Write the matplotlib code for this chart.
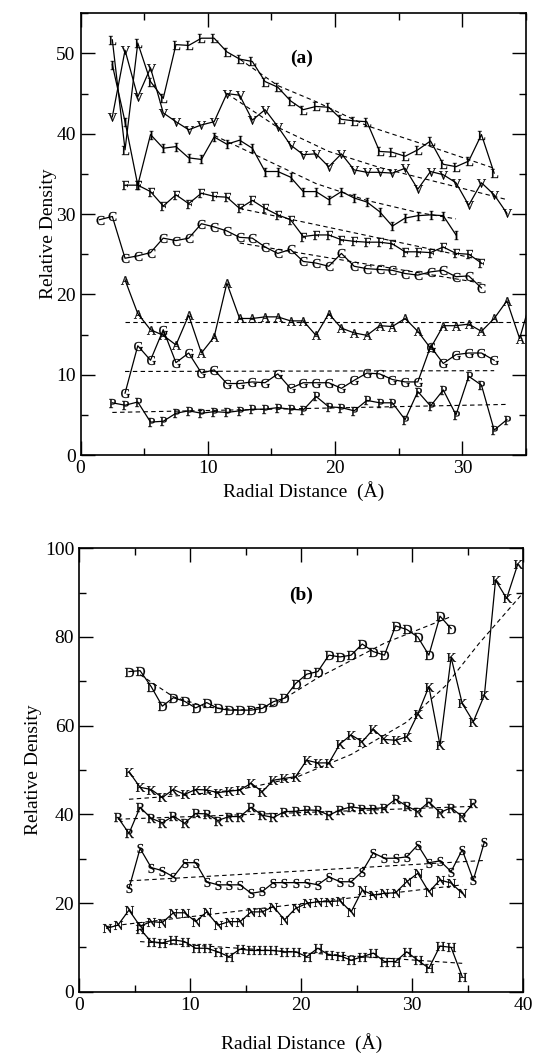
import matplotlib
matplotlib.use("Agg")
import matplotlib.pyplot as plt
from matplotlib.ticker import MultipleLocator

plt.rcParams['font.family'] = ['Liberation Serif', 'DejaVu Serif']
plt.rcParams['mathtext.fontset'] = 'custom'
plt.rcParams['mathtext.rm'] = 'Liberation Serif'

# ---------------- Panel (a) data ----------------
L_x = [2.5, 3.5, 4.5, 5.5, 6.5, 7.5, 8.5, 9.5, 10.5, 11.5, 12.5, 13.5, 14.5, 15.5, 16.5,
       17.5, 18.5, 19.5, 20.5, 21.5, 22.5, 23.5, 24.5, 25.5, 26.5, 27.5, 28.5, 29.5, 30.5, 31.5, 32.5]
L_y = [51.7, 38.0, 51.3, 46.5, 44.4, 51.1, 51.0, 51.9, 51.9, 50.2, 49.3, 49.0, 46.5, 45.8, 44.1,
       43.0, 43.4, 43.3, 41.8, 41.6, 41.5, 37.8, 37.7, 37.2, 38.0, 39.1, 36.2, 35.9, 36.6, 39.9, 35.1]

V_x = [2.5, 3.5, 4.5, 5.5, 6.5, 7.5, 8.5, 9.5, 10.5, 11.5, 12.5, 13.5, 14.5, 15.5, 16.5,
       17.5, 18.5, 19.5, 20.5, 21.5, 22.5, 23.5, 24.5, 25.5, 26.5, 27.5, 28.5, 29.5, 30.5, 31.5, 32.5, 33.5]
V_y = [42.1, 50.4, 44.6, 48.2, 42.6, 41.5, 40.5, 41.1, 41.5, 45.0, 44.8, 41.7, 43.0, 40.9, 38.6,
       37.4, 37.5, 35.9, 37.5, 35.5, 35.2, 35.2, 35.1, 35.7, 33.1, 35.3, 34.9, 33.9, 31.1, 33.9, 32.4, 30.1]

I_x = [2.5, 3.5, 4.5, 5.5, 6.5, 7.5, 8.5, 9.5, 10.5, 11.5, 12.5, 13.5, 14.5, 15.5, 16.5,
       17.5, 18.5, 19.5, 20.5, 21.5, 22.5, 23.5, 24.5, 25.5, 26.5, 27.5, 28.5, 29.5]
I_y = [48.6, 41.5, 33.6, 39.9, 38.2, 38.4, 37.0, 36.8, 39.6, 38.7, 39.2, 38.2, 35.3, 35.3, 34.6,
       32.8, 32.8, 31.8, 32.8, 32.0, 31.5, 30.3, 28.5, 29.5, 29.8, 29.9, 29.8, 27.4]

F_x = [3.5, 4.5, 5.5, 6.5, 7.5, 8.5, 9.5, 10.5, 11.5, 12.5, 13.5, 14.5, 15.5, 16.5,
       17.5, 18.5, 19.5, 20.5, 21.5, 22.5, 23.5, 24.5, 25.5, 26.5, 27.5, 28.5, 29.5, 30.5, 31.5]
F_y = [33.6, 33.6, 32.8, 31.0, 32.4, 31.3, 32.6, 32.2, 32.1, 30.7, 31.7, 30.7, 29.9, 29.3,
       27.2, 27.4, 27.4, 26.8, 26.6, 26.5, 26.5, 26.3, 25.3, 25.3, 25.2, 25.9, 25.1, 25.0, 23.9]

C_x = [1.5, 2.5, 3.5, 4.5, 5.5, 6.5, 7.5, 8.5, 9.5, 10.5, 11.5, 12.5, 13.5, 14.5, 15.5, 16.5,
       17.5, 18.5, 19.5, 20.5, 21.5, 22.5, 23.5, 24.5, 25.5, 26.5, 27.5, 28.5, 29.5, 30.5, 31.5]
C_y = [29.3, 29.7, 24.5, 24.8, 25.2, 27.0, 26.7, 27.0, 28.8, 28.4, 27.9, 27.1, 27.0, 25.9, 25.1, 25.6,
       24.1, 23.9, 23.5, 25.1, 23.5, 23.2, 23.1, 23.0, 22.6, 22.4, 22.8, 23.0, 22.2, 22.3, 20.8]

A_x = [3.5, 4.5, 5.5, 6.5, 7.5, 8.5, 9.5, 10.5, 11.5, 12.5, 13.5, 14.5, 15.5, 16.5,
       17.5, 18.5, 19.5, 20.5, 21.5, 22.5, 23.5, 24.5, 25.5, 26.5, 27.5, 28.5, 29.5, 30.5,
       31.5, 32.5, 33.5, 34.5, 35.5]
A_y = [21.8, 17.6, 15.6, 14.9, 13.7, 17.4, 12.7, 14.7, 21.4, 17.0, 17.0, 17.2, 17.2, 16.7,
       16.7, 14.9, 17.6, 15.8, 15.2, 14.9, 16.1, 16.0, 17.0, 15.4, 13.3, 16.1, 16.1, 16.3,
       15.4, 17.0, 19.2, 14.5, 20.0]

G_x = [3.5, 4.5, 5.5, 6.5, 7.5, 8.5, 9.5, 10.5, 11.5, 12.5, 13.5, 14.5, 15.5, 16.5,
       17.5, 18.5, 19.5, 20.5, 21.5, 22.5, 23.5, 24.5, 25.5, 26.5, 27.5, 28.5, 29.5, 30.5, 31.5, 32.5]
G_y = [7.7, 13.6, 11.8, 15.6, 11.5, 12.7, 10.2, 10.6, 8.9, 8.9, 9.1, 9.0, 10.1, 8.3,
       9.0, 9.0, 9.0, 8.3, 9.3, 10.2, 10.1, 9.4, 9.1, 9.1, 13.5, 11.4, 12.5, 12.7, 12.7, 11.8]

P_x = [2.5, 3.5, 4.5, 5.5, 6.5, 7.5, 8.5, 9.5, 10.5, 11.5, 12.5, 13.5, 14.5, 15.5, 16.5,
       17.5, 18.5, 19.5, 20.5, 21.5, 22.5, 23.5, 24.5, 25.5, 26.5, 27.5, 28.5, 29.5, 30.5,
       31.5, 32.5, 33.5]
P_y = [6.5, 6.2, 6.6, 4.1, 4.2, 5.2, 5.5, 5.2, 5.4, 5.3, 5.5, 5.7, 5.7, 5.9, 5.7,
       5.6, 7.3, 6.0, 5.9, 5.5, 6.8, 6.5, 6.5, 4.4, 7.9, 6.1, 8.1, 5.0, 9.8,
       8.7, 3.1, 4.4]

# fitted (dashed) curves, panel (a)
fitL_x = [12.5, 15.5, 18.5, 22.5, 27.5, 32.5]
fitL_y = [49.3, 46.0, 44.0, 41.0, 38.4, 35.7]
fitV_x = [11.5, 15.5, 19.5, 23.5, 27.5, 33.5]
fitV_y = [45.0, 40.8, 37.8, 35.8, 34.2, 31.8]
fitI_x = [10.5, 14.5, 18.5, 22.5, 26.5, 29.5]
fitI_y = [39.8, 36.8, 33.8, 31.7, 30.2, 29.4]
fitF_x = [12.5, 31.5]
fitF_y = [30.7, 24.3]
fitC_x = [12.5, 31.5]
fitC_y = [26.4, 21.4]
fitA_x = [3.5, 35.0]
fitA_y = [16.5, 16.5]
fitG_x = [3.5, 32.5]
fitG_y = [10.4, 10.5]
fitP_x = [2.5, 33.5]
fitP_y = [5.3, 6.3]

# ---------------- Panel (b) data ----------------
D_x = [4.5, 5.5, 6.5, 7.5, 8.5, 9.5, 10.5, 11.5, 12.5, 13.5, 14.5, 15.5, 16.5, 17.5, 18.5,
       19.5, 20.5, 21.5, 22.5, 23.5, 24.5, 25.5, 26.5, 27.5, 28.5, 29.5, 30.5, 31.5, 32.5, 33.5]
D_y = [72.2, 72.4, 68.8, 64.4, 66.3, 65.5, 64.0, 65.2, 63.9, 63.5, 63.5, 63.5, 63.9, 65.4, 66.2,
       69.5, 71.6, 72.2, 75.9, 75.5, 75.9, 78.4, 76.7, 75.9, 82.5, 81.7, 80.0, 75.9, 84.7, 81.9]

K_x = [4.5, 5.5, 6.5, 7.5, 8.5, 9.5, 10.5, 11.5, 12.5, 13.5, 14.5, 15.5, 16.5, 17.5, 18.5,
       19.5, 20.5, 21.5, 22.5, 23.5, 24.5, 25.5, 26.5, 27.5, 28.5, 29.5, 30.5, 31.5, 32.5,
       33.5, 34.5, 35.5, 36.5, 37.5, 38.5, 39.5]
K_y = [49.6, 46.1, 45.6, 43.8, 45.6, 44.5, 45.6, 45.5, 44.9, 45.2, 45.5, 47.0, 45.1, 47.7, 48.1,
       48.5, 52.2, 51.6, 51.6, 55.9, 57.9, 56.4, 59.2, 56.9, 56.7, 57.5, 62.6, 68.8, 55.6,
       75.4, 65.0, 60.9, 66.9, 92.8, 88.7, 96.4]

R_x = [3.5, 4.5, 5.5, 6.5, 7.5, 8.5, 9.5, 10.5, 11.5, 12.5, 13.5, 14.5, 15.5, 16.5, 17.5, 18.5,
       19.5, 20.5, 21.5, 22.5, 23.5, 24.5, 25.5, 26.5, 27.5, 28.5, 29.5, 30.5, 31.5, 32.5,
       33.5, 34.5, 35.5]
R_y = [39.3, 35.7, 41.6, 39.1, 38.1, 39.6, 38.0, 40.2, 40.1, 38.6, 39.5, 39.5, 41.6, 39.8, 39.3, 40.6,
       40.7, 41.0, 40.9, 39.8, 41.0, 41.7, 41.3, 41.3, 41.5, 43.4, 41.9, 40.6, 42.8, 40.4,
       41.5, 39.5, 42.5]

S_x = [4.5, 5.5, 6.5, 7.5, 8.5, 9.5, 10.5, 11.5, 12.5, 13.5, 14.5, 15.5, 16.5, 17.5, 18.5,
       19.5, 20.5, 21.5, 22.5, 23.5, 24.5, 25.5, 26.5, 27.5, 28.5, 29.5, 30.5, 31.5, 32.5,
       33.5, 34.5, 35.5, 36.5]
S_y = [23.3, 32.3, 28.0, 27.3, 25.9, 29.1, 29.1, 24.8, 24.1, 24.1, 24.1, 22.2, 22.6, 24.6, 24.6,
       24.6, 24.6, 24.1, 25.9, 24.8, 24.8, 27.1, 31.3, 30.1, 30.1, 30.4, 33.1, 29.1, 29.5,
       27.1, 32.0, 25.2, 33.8]

N_x = [2.5, 3.5, 4.5, 5.5, 6.5, 7.5, 8.5, 9.5, 10.5, 11.5, 12.5, 13.5, 14.5, 15.5, 16.5,
       17.5, 18.5, 19.5, 20.5, 21.5, 22.5, 23.5, 24.5, 25.5, 26.5, 27.5, 28.5, 29.5, 30.5,
       31.5, 32.5, 33.5, 34.5]
N_y = [14.3, 15.0, 18.4, 14.8, 15.8, 15.6, 17.8, 17.8, 15.8, 18.0, 15.0, 15.8, 15.8, 18.0, 18.0,
       19.2, 16.2, 18.8, 19.9, 20.3, 20.3, 20.5, 18.0, 22.9, 21.8, 22.2, 22.3, 24.8, 26.7,
       22.5, 25.2, 24.5, 22.2]

H_x = [5.5, 6.5, 7.5, 8.5, 9.5, 10.5, 11.5, 12.5, 13.5, 14.5, 15.5, 16.5, 17.5, 18.5,
       19.5, 20.5, 21.5, 22.5, 23.5, 24.5, 25.5, 26.5, 27.5, 28.5, 29.5, 30.5, 31.5, 32.5,
       33.5, 34.5]
H_y = [14.1, 11.3, 11.0, 11.7, 11.3, 9.8, 9.8, 9.0, 7.9, 9.6, 9.3, 9.3, 9.3, 9.0,
       9.0, 7.9, 9.8, 8.3, 8.1, 7.1, 7.9, 8.7, 6.8, 6.8, 9.0, 7.1, 5.3, 10.3,
       10.0, 3.4]

# fitted (dashed) curves, panel (b)
fitD_x = [5.5, 8.5, 11.5, 14.5, 17.5, 21.5, 27.5, 33.5]
fitD_y = [71.5, 66.5, 64.2, 63.5, 64.6, 70.8, 78.6, 84.6]
fitK_x = [4.5, 9.5, 14.5, 19.5, 24.5, 29.5, 33.0, 36.0, 40.0]
fitK_y = [43.4, 44.3, 45.6, 48.3, 53.5, 60.8, 69.0, 78.5, 90.0]
fitR_x = [3.5, 35.5]
fitR_y = [38.9, 41.8]
fitS_x = [4.5, 36.5]
fitS_y = [25.0, 29.6]
fitN_x = [2.5, 34.5]
fitN_y = [14.7, 24.1]
fitH_x = [5.5, 34.5]
fitH_y = [11.3, 6.4]

panel_a = [("L", L_x, L_y), ("V", V_x, V_y), ("I", I_x, I_y), ("F", F_x, F_y),
           ("C", C_x, C_y), ("A", A_x, A_y), ("G", G_x, G_y), ("P", P_x, P_y)]
fits_a = [(fitL_x, fitL_y), (fitV_x, fitV_y), (fitI_x, fitI_y), (fitF_x, fitF_y),
          (fitC_x, fitC_y), (fitA_x, fitA_y), (fitG_x, fitG_y), (fitP_x, fitP_y)]
panel_b = [("D", D_x, D_y), ("K", K_x, K_y), ("R", R_x, R_y), ("S", S_x, S_y),
           ("N", N_x, N_y), ("H", H_x, H_y)]
fits_b = [(fitD_x, fitD_y), (fitK_x, fitK_y), (fitR_x, fitR_y), (fitS_x, fitS_y),
          (fitN_x, fitN_y), (fitH_x, fitH_y)]

W, H = 535, 1059
fig = plt.figure(figsize=(W / 100, H / 100), dpi=100)
ax_a = fig.add_axes([80.5 / W, 1 - 455 / H, (526 - 80.5) / W, (455 - 13.3) / H])
ax_b = fig.add_axes([79 / W, 1 - 991.7 / H, (523.3 - 79) / W, (991.7 - 548.3) / H])


def draw(ax, series, fits):
    for fx, fy in fits:
        ax.plot(fx, fy, color='black', lw=0.8, linestyle=(0, (4, 3)))
    for letter, xs, ys in series:
        ax.plot(xs, ys, color='black', lw=0.9,
                marker=r'$\mathrm{%s}$' % letter, ms=6.5, mew=0.2,
                mfc='black', mec='black')


def style(ax, xmax, ymax, xmaj, xmin, ymaj, ymin, xpad, ypad):
    ax.set_xlim(0, xmax)
    ax.set_ylim(0, ymax)
    ax.xaxis.set_major_locator(MultipleLocator(xmaj))
    ax.xaxis.set_minor_locator(MultipleLocator(xmin))
    ax.yaxis.set_major_locator(MultipleLocator(ymaj))
    ax.yaxis.set_minor_locator(MultipleLocator(ymin))
    ax.tick_params(which='both', direction='in', top=True, right=True,
                   labelsize=14, width=1.0)
    ax.tick_params(which='major', length=10)
    ax.tick_params(which='minor', length=5)
    for s in ax.spines.values():
        s.set_linewidth(1.2)
    ax.set_xlabel('Radial Distance  (Å)', fontsize=14, labelpad=xpad)
    ax.set_ylabel('Relative Density', fontsize=14, labelpad=ypad)


draw(ax_a, panel_a, fits_a)
style(ax_a, 35, 55, 10, 5, 10, 5, 3, -1)
ax_a.text(17.4, 49.4, '(a)', fontsize=14, fontweight='bold', ha='center', va='center')

draw(ax_b, panel_b, fits_b)
style(ax_b, 40, 100, 10, 5, 20, 10, 14, 2)
ax_b.text(20.0, 89.4, '(b)', fontsize=14, fontweight='bold', ha='center', va='center')

fig.savefig('out.png', dpi=100)
